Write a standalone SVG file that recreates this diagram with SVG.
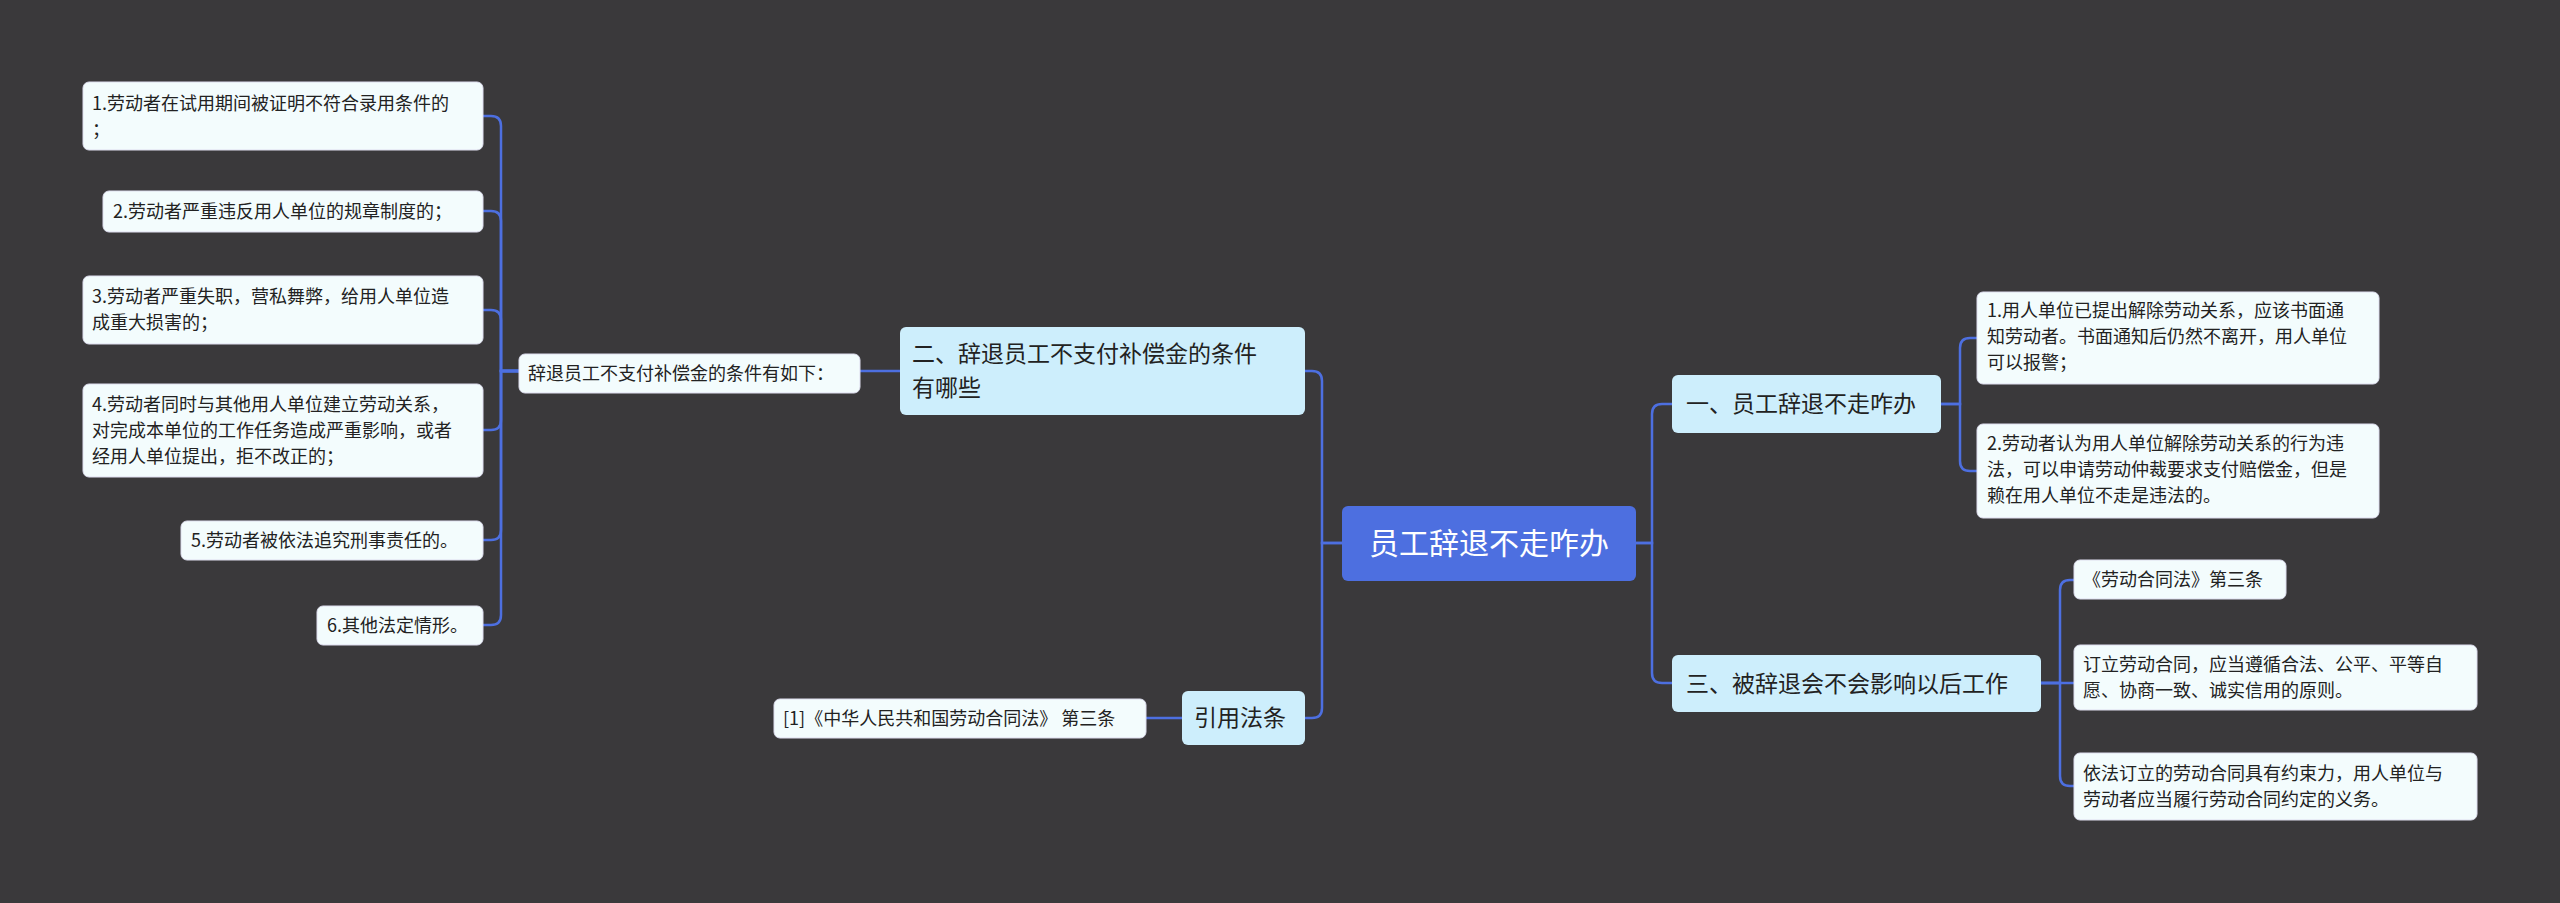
<svg xmlns="http://www.w3.org/2000/svg" width="2560" height="903" viewBox="0 0 2560 903">
<style>
text{font-family:"Noto Sans CJK SC","Noto Sans",sans-serif;fill:#222}
.leaf rect{fill:#f3fcfd;stroke:#dde;stroke-width:1}
.leaf text{font-size:18px}
.l1 rect{fill:#cdeefc}
.l1 text{font-size:23px}
.root rect{fill:#4d6fe0}
.root text{font-size:30px;fill:#fff}
#edges path{fill:none;stroke:#4d6fe0;stroke-width:2.5}
</style>
<rect width="2560" height="903" fill="#3a393b"/>
<g id="edges">
<path d="M1342 543 H1322 V381 Q1322 371 1312 371 H1305"/>
<path d="M1342 543 H1322 V708 Q1322 718 1312 718 H1305"/>
<path d="M1636 543 H1652 V414 Q1652 404 1662 404 H1672"/>
<path d="M1636 543 H1652 V673 Q1652 683 1662 683 H1672"/>
<path d="M1941 404 H1960 V348 Q1960 338 1970 338 H1977"/>
<path d="M1941 404 H1960 V461 Q1960 471 1970 471 H1977"/>
<path d="M2041 683 H2060 V590 Q2060 580 2070 580 H2074"/>
<path d="M2041 683 H2074"/>
<path d="M2041 683 H2060 V776 Q2060 786 2070 786 H2074"/>
<path d="M900 371 H860"/>
<path d="M1182 718 H1146"/>
<path d="M519 371 H501 V126 Q501 116 491 116 H483"/>
<path d="M519 371 H501 V221 Q501 211 491 211 H483"/>
<path d="M519 371 H501 V320 Q501 310 491 310 H483"/>
<path d="M519 371 H501 V420 Q501 430 491 430 H483"/>
<path d="M519 371 H501 V530 Q501 540 491 540 H483"/>
<path d="M519 371 H501 V615 Q501 625 491 625 H483"/>
</g>
<g id="root" class="root"><rect x="1342" y="506" width="294" height="75" rx="6"/><text x="1489" y="554" text-anchor="middle">员工辞退不走咋办</text></g>
<g id="n1" class="l1"><rect x="1672" y="375" width="269" height="58" rx="6"/><text x="1686" y="412">一、员工辞退不走咋办</text></g>
<g id="n3" class="l1"><rect x="1672" y="655" width="369" height="57" rx="6"/><text x="1686" y="692">三、被辞退会不会影响以后工作</text></g>
<g id="n2" class="l1"><rect x="900" y="327" width="405" height="88" rx="6"/><text x="912" y="362">二、辞退员工不支付补偿金的条件</text><text x="912" y="396">有哪些</text></g>
<g id="n4" class="l1"><rect x="1182" y="691" width="123" height="54" rx="6"/><text x="1194" y="726">引用法条</text></g>
<g id="r1" class="leaf"><rect x="1977" y="292" width="402" height="92" rx="6"/><text x="1987" y="317">1.用人单位已提出解除劳动关系，应该书面通</text><text x="1987" y="343">知劳动者。书面通知后仍然不离开，用人单位</text><text x="1987" y="369">可以报警；</text></g>
<g id="r2" class="leaf"><rect x="1977" y="424" width="402" height="94" rx="6"/><text x="1987" y="450">2.劳动者认为用人单位解除劳动关系的行为违</text><text x="1987" y="476">法，可以申请劳动仲裁要求支付赔偿金，但是</text><text x="1987" y="502">赖在用人单位不走是违法的。</text></g>
<g id="r3" class="leaf"><rect x="2074" y="560" width="212" height="39" rx="6"/><text x="2083" y="586">《劳动合同法》第三条</text></g>
<g id="r4" class="leaf"><rect x="2074" y="645" width="403" height="65" rx="6"/><text x="2083" y="671">订立劳动合同，应当遵循合法、公平、平等自</text><text x="2083" y="697">愿、协商一致、诚实信用的原则。</text></g>
<g id="r5" class="leaf"><rect x="2074" y="753" width="403" height="67" rx="6"/><text x="2083" y="780">依法订立的劳动合同具有约束力，用人单位与</text><text x="2083" y="806">劳动者应当履行劳动合同约定的义务。</text></g>
<g id="m" class="leaf"><rect x="519" y="354" width="341" height="39" rx="6"/><text x="528" y="380">辞退员工不支付补偿金的条件有如下：</text></g>
<g id="c1" class="leaf"><rect x="774" y="699" width="372" height="39" rx="6"/><text x="783" y="725">[1]《中华人民共和国劳动合同法》 第三条</text></g>
<g id="L1" class="leaf"><rect x="83" y="82" width="400" height="68" rx="6"/><text x="92" y="110">1.劳动者在试用期间被证明不符合录用条件的</text><text x="92" y="136">；</text></g>
<g id="L2" class="leaf"><rect x="103" y="191" width="380" height="41" rx="6"/><text x="113" y="218">2.劳动者严重违反用人单位的规章制度的；</text></g>
<g id="L3" class="leaf"><rect x="83" y="276" width="400" height="68" rx="6"/><text x="92" y="303">3.劳动者严重失职，营私舞弊，给用人单位造</text><text x="92" y="329">成重大损害的；</text></g>
<g id="L4" class="leaf"><rect x="83" y="384" width="400" height="93" rx="6"/><text x="92" y="411">4.劳动者同时与其他用人单位建立劳动关系，</text><text x="92" y="437">对完成本单位的工作任务造成严重影响，或者</text><text x="92" y="463">经用人单位提出，拒不改正的；</text></g>
<g id="L5" class="leaf"><rect x="181" y="521" width="302" height="39" rx="6"/><text x="191" y="547">5.劳动者被依法追究刑事责任的。</text></g>
<g id="L6" class="leaf"><rect x="317" y="606" width="166" height="39" rx="6"/><text x="327" y="632">6.其他法定情形。</text></g>
</svg>
